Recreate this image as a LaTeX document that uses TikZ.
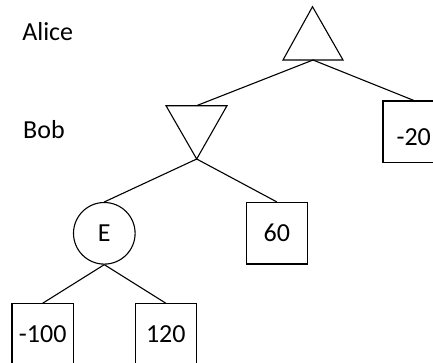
\documentclass[tikz,border=0pt]{standalone}
\usepackage{fontspec}
\setmainfont{Carlito}
\begin{document}
\begin{tikzpicture}[x=1pt,y=-1pt,line width=1.1pt,
  every node/.style={font=\fontsize{26}{30}\selectfont},
  valbox/.style={draw,minimum width=61.5pt,minimum height=61.5pt,inner sep=0pt},
  chance/.style={draw,circle,minimum size=61.6pt,inner sep=0pt},
  player/.style={anchor=base west,inner sep=0pt},
  edge/.style={draw,line width=1.1pt}]
\useasboundingbox (0,0) rectangle (433,362);
\clip (0,0) rectangle (433,362);
% labels
\node[player] (alice) at (21.7,40) {Alice};
\node[player] (bob) at (22.7,138.3) {Bob};
% max triangle (Alice)
\draw (312.5,6.7) -- (283,60) -- (343,60) -- cycle;
\coordinate (maxb) at (313,60);
% min triangle (Bob)
\draw (166,105.7) -- (227,105.7) -- (196.7,159) -- cycle;
\coordinate (mint) at (196.5,105.7);
\coordinate (minb) at (196.7,159);
% nodes
\node[valbox,text height=28pt] (m20) at (413.7,131.7) {-20};
\node[valbox] (v60) at (276.8,233.2) {60};
\node[chance] (e) at (104.3,233.3) {E};
\node[valbox] (m100) at (42.7,334.5) {-100};
\node[valbox] (v120) at (165.8,334.5) {120};
% edges
\draw[edge] (maxb) -- (mint);
\draw[edge] (maxb) -- (m20.north);
\draw[edge] (minb) -- (e.north);
\draw[edge] (minb) -- (v60.north);
\draw[edge] (e.south) -- (m100.north);
\draw[edge] (e.south) -- (v120.north);
\end{tikzpicture}
\end{document}
